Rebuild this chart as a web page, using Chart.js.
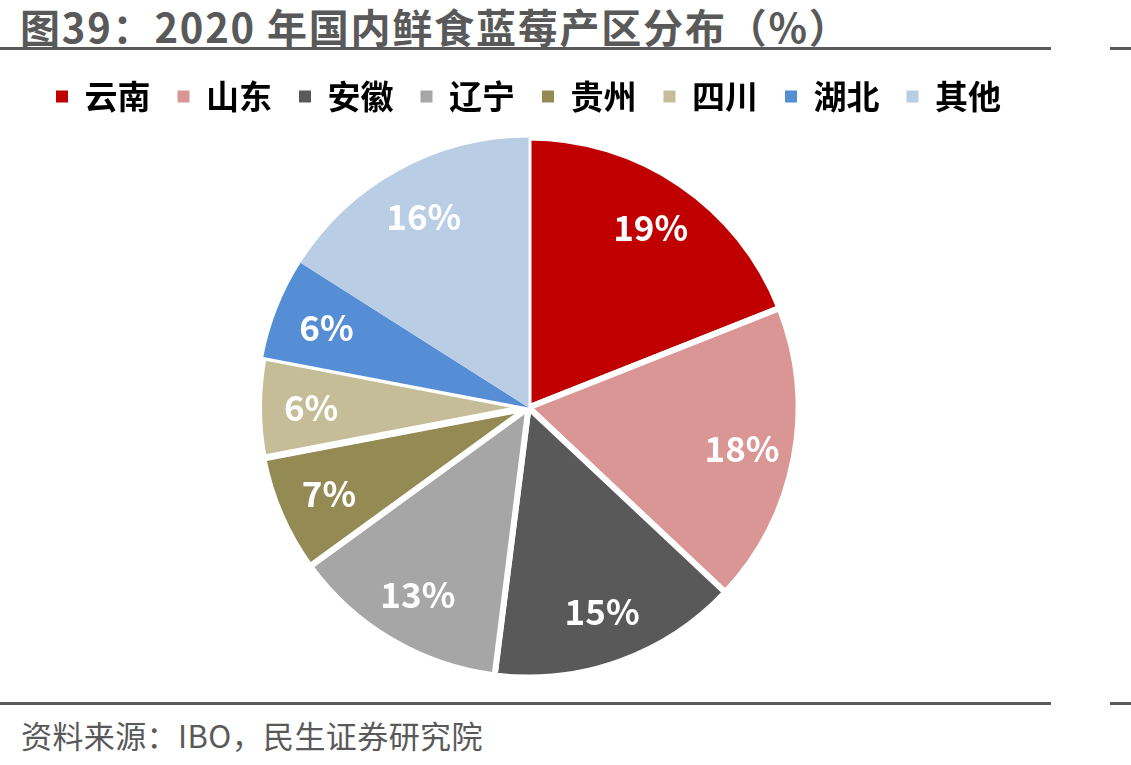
<!DOCTYPE html>
<html>
<head>
<meta charset="utf-8">
<script src="https://cdn.jsdelivr.net/npm/chart.js@4.4.1/dist/chart.umd.min.js"></script>
<style>
  html,body{margin:0;padding:0;background:#fff;}
  body{width:1131px;height:765px;position:relative;overflow:hidden;font-family:"Noto Sans CJK SC","Noto Sans",sans-serif;}
  #title{position:absolute;left:20px;top:6px;font-size:40px;line-height:40px;font-weight:bold;color:#595959;white-space:nowrap;letter-spacing:1.8px;}
  .rule{position:absolute;height:3px;background:#595959;}
  #source{position:absolute;left:21px;top:719px;font-size:31px;line-height:31px;color:#595959;white-space:nowrap;letter-spacing:0.4px;}
  #wrap{position:absolute;left:0;top:53px;width:1057px;height:628px;}
</style>
</head>
<body>
<div id="title">图39：2020 年国内鲜食蓝莓产区分布（%）</div>
<div class="rule" style="left:0;top:47px;width:1051px;"></div>
<div class="rule" style="left:1110px;top:47px;width:21px;"></div>
<div id="wrap"><canvas id="c"></canvas></div>
<div class="rule" style="left:0;top:702px;width:1051px;"></div>
<div class="rule" style="left:1110px;top:702px;width:21px;"></div>
<div id="source">资料来源：IBO，民生证券研究院</div>
<script>
const categories = ["云南", "山东", "安徽", "辽宁", "贵州", "四川", "湖北", "其他"];
const shares = [19, 18, 15, 13, 7, 6, 6, 16];
const sliceColors = ["#C00000", "#DA9694", "#595959", "#A6A6A6", "#948A54", "#C4BD97", "#558ED5", "#B9CDE5"];
const sliceBorders = [6, 6, 6, 6, 6, 7, 0, 0];

const legendHeight = {
  id: 'legendHeight',
  beforeInit(chart) {
    const fit = chart.legend.fit;
    chart.legend.fit = function () {
      fit.bind(chart.legend)();
      this.height = 81;
    };
  }
};

const pieLabels = {
  id: 'pieLabels',
  afterDatasetsDraw(chart) {
    const ctx = chart.ctx;
    const meta = chart.getDatasetMeta(0);
    ctx.save();
    ctx.fillStyle = '#FFFFFF';
    ctx.font = 'bold 35px "Noto Sans CJK SC", "Noto Sans", sans-serif';
    ctx.textAlign = 'center';
    ctx.textBaseline = 'middle';
    meta.data.forEach((arc, i) => {
      const p = arc.getProps(['x', 'y', 'startAngle', 'endAngle', 'outerRadius'], true);
      const mid = (p.startAngle + p.endAngle) / 2;
      const r = p.outerRadius * 0.805;
      ctx.fillText(shares[i] + '%', p.x + Math.cos(mid) * r, p.y + Math.sin(mid) * r);
    });
    ctx.restore();
  }
};

new Chart(document.getElementById('c'), {
  type: 'pie',
  data: {
    labels: categories,
    datasets: [{
      data: shares,
      backgroundColor: sliceColors,
      borderColor: '#FFFFFF',
      borderWidth: sliceBorders,
      hoverOffset: 0
    }]
  },
  options: {
    responsive: true,
    maintainAspectRatio: false,
    animation: false,
    layout: { padding: 0 },
    plugins: {
      tooltip: { enabled: false },
      legend: {
        position: 'top',
        labels: {
          boxWidth: 12,
          boxHeight: 12,
          padding: 27,
          color: '#000000',
          font: { size: 33, weight: 'bold', family: '"Noto Sans CJK SC", "Noto Sans", sans-serif' },
          generateLabels(chart) {
            const items = Chart.overrides.pie.plugins.legend.labels.generateLabels(chart);
            items.forEach(it => { it.lineWidth = 0; it.strokeStyle = 'rgba(0,0,0,0)'; });
            return items;
          }
        }
      }
    }
  },
  plugins: [legendHeight, pieLabels]
});
</script>
</body>
</html>
